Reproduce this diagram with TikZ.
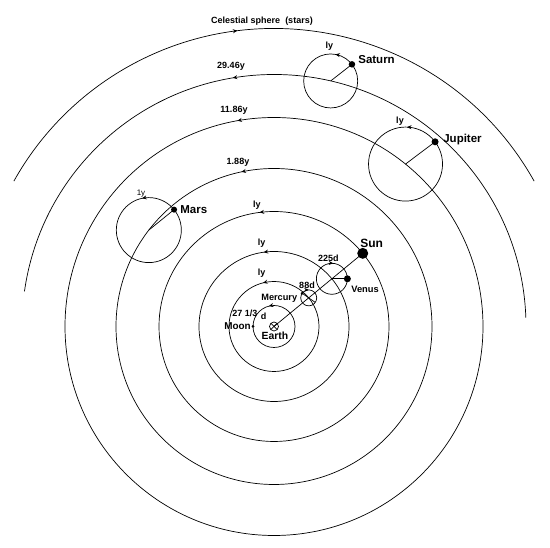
\documentclass[tikz,border=0pt]{standalone}
\usepackage{fontspec}
\setmainfont{Liberation Sans}
\usetikzlibrary{arrows.meta,positioning,calc,decorations.markings}

\tikzset{
  lbl/.style={inner sep=0pt, font=\bfseries\fontsize{9}{9}\selectfont},
  pname/.style={inner sep=0pt, font=\bfseries\fontsize{11.5}{12}\selectfont},
  planet/.style={circle, fill, inner sep=0pt, minimum size=#1},
  ccw/.style={postaction={decorate}, decoration={markings, mark=at position #1 with {\arrow{Stealth[length=4.5pt,width=4pt,inset=1.5pt]}}}},
  cw/.style={postaction={decorate}, decoration={markings, mark=at position #1 with {\arrowreversed{Stealth[length=4.5pt,width=4pt,inset=1.5pt]}}}},
}

\begin{document}
\begin{tikzpicture}[x=1pt, y=1pt, line width=0.7pt]
        \useasboundingbox (0,0) rectangle (550,548);
        \coordinate (earth) at (274,221.5);

        % circles round the earth
        \draw[ccw=0.289] ([shift={(0:21)}]earth) arc[start angle=0, end angle=360, radius=21];
        \draw[ccw=0.289] ([shift={(0:45)}]earth) arc[start angle=0, end angle=360, radius=45];
        \draw[ccw=0.272] ([shift={(0:75)}]earth) arc[start angle=0, end angle=360, radius=75];
        \draw[ccw=0.270] ([shift={(0:115)}]earth) arc[start angle=0, end angle=360, radius=115];
        \draw[ccw=0.283] ([shift={(0:158)}]earth) arc[start angle=0, end angle=360, radius=158];
        \draw[ccw=0.278] ([shift={(0:209)}]earth) arc[start angle=0, end angle=360, radius=209];
        \draw[ccw=0.573] ([shift={(2:252)}]earth) arc[start angle=2, end angle=172, radius=252];
        \draw[cw=0.558] ([shift={(29.2:298)}]earth) arc[start angle=29.2, end angle=150.8, radius=298];

        % earth
        \draw (earth) circle[radius=4.5];
        \draw ([shift={(45:4.5)}]earth) -- ([shift={(225:4.5)}]earth);
        \draw ([shift={(135:4.5)}]earth) -- ([shift={(315:4.5)}]earth);
        \node[lbl, font=\bfseries\fontsize{10.4}{11}\selectfont, anchor=base] (earthlbl) at (275,208.8) {Earth};

        % moon
        \node[planet=3pt] (moon) at ([shift={(180:21)}]earth) {};
        \node[lbl, font=\bfseries\fontsize{9.9}{10}\selectfont, anchor=base east] (moonlbl) at (251,218.5) {Moon};
        \node[lbl, anchor=base] (moonper) at (245,231.5) {27 1/3};
        \node[lbl, anchor=base] (moond) at (263.5,228) {d};

        % sun
        \node[planet=11pt] (sun) at ([shift={(39.5:115)}]earth) {};
        \draw (earth) -- (sun.center);
        \node[pname, font=\bfseries\fontsize{12}{12}\selectfont, anchor=base west] (sunlbl) at (360,300.7) {Sun};

        % mercury
        \coordinate (mercC) at ([shift={(39.5:45)}]earth);
        \draw[cw=0.25] ([shift={(0:8)}]mercC) arc[start angle=0, end angle=360, radius=8];
        \node[planet=3pt] (mercury) at ([shift={(145:8)}]mercC) {};
        \draw (mercury.center) -- ([shift={(325:8)}]mercC);
        \node[lbl, font=\bfseries\fontsize{9.2}{10}\selectfont, anchor=base east] (merclbl) at (297.5,247.7) {Mercury};
        \node[lbl, anchor=base] (mercper) at (307,259.5) {88d};

        % venus
        \coordinate (venC) at ([shift={(39.5:75)}]earth);
        \draw[cw=0.236] ([shift={(0:15.5)}]venC) arc[start angle=0, end angle=360, radius=15.5];
        \node[planet=7pt] (venus) at ([shift={(0:15.5)}]venC) {};
        \draw (venC) -- (venus.center);
        \node[lbl, font=\bfseries\fontsize{9.3}{10}\selectfont, anchor=base west] (venlbl) at (351,255.7) {Venus};
        \node[lbl, anchor=base] (venper) at (328.3,286.5) {225d};

        % mars
        \coordinate (marsC) at ([shift={(142.4:158)}]earth);
        \draw[ccw=0.283] ([shift={(0:32.5)}]marsC) arc[start angle=0, end angle=360, radius=32.5];
        \node[planet=6pt] (mars) at ([shift={(39:32.5)}]marsC) {};
        \draw (marsC) -- (mars.center);
        \node[pname, anchor=base west] (marslbl) at (180,334) {Mars};
        \node[inner sep=0pt, font=\fontsize{8}{8}\selectfont, anchor=base] (marsper) at (141,352) {1y};

        % jupiter
        \coordinate (jupC) at ([shift={(51:209)}]earth);
        \draw[ccw=0.244] ([shift={(0:37)}]jupC) arc[start angle=0, end angle=360, radius=37];
        \node[planet=7pt] (jupiter) at ([shift={(37:37)}]jupC) {};
        \draw (jupC) -- (jupiter.center);
        \node[pname, anchor=base west] (juplbl) at (443,405) {Jupiter};
        \node[lbl, anchor=base] (jupper) at (400,424.5) {ly};

        % saturn
        \coordinate (satC) at ([shift={(77:252)}]earth);
        \draw[ccw=0.222] ([shift={(0:27)}]satC) arc[start angle=0, end angle=360, radius=27];
        \node[planet=6.5pt] (saturn) at ([shift={(38:27)}]satC) {};
        \draw (satC) -- (saturn.center);
        \node[pname, anchor=base west] (satlbl) at (358,484) {Saturn};
        \node[lbl, anchor=base] (satper) at (329.3,499.5) {ly};

        % periods of the circles
        \node[lbl, anchor=base] (mercdef) at (261.7,272) {ly};
        \node[lbl, anchor=base] (vendef) at (261.7,302) {ly};
        \node[lbl, anchor=base] (sundef) at (257,340) {ly};
        \node[lbl, anchor=base] (marsdef) at (238,383) {1.88y};
        \node[lbl, anchor=base] (jupdef) at (234,435.5) {11.86y};
        \node[lbl, anchor=base] (satdef) at (231,479) {29.46y};
        \node[lbl, anchor=base] (stars) at (262,524) {Celestial sphere~~(stars)};
      \end{tikzpicture}
\end{document}
